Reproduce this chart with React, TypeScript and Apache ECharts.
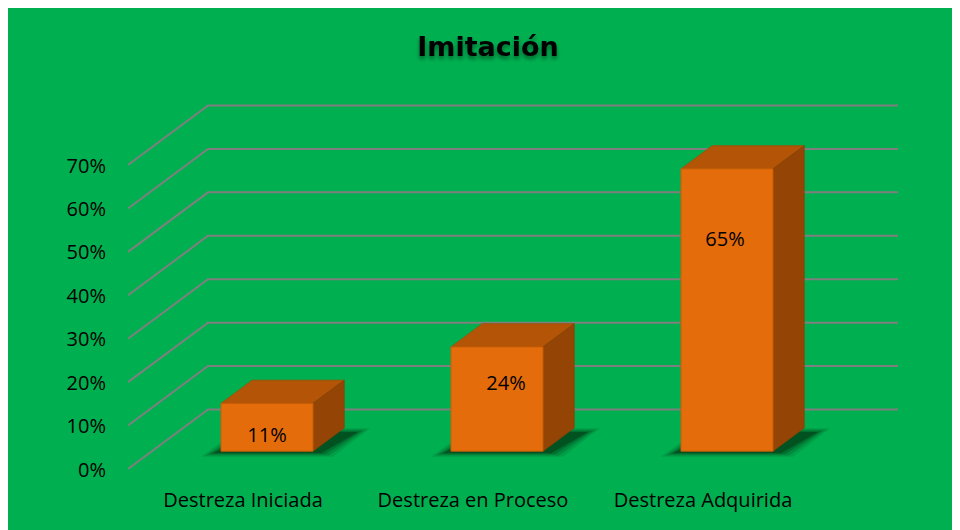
import React, { useEffect, useRef } from "react";
import * as echarts from "echarts";

const categories = ["Destreza Iniciada", "Destreza en Proceso", "Destreza Adquirida"];
const values = [0.11, 0.24, 0.65];
const tickValues = [0, 0.1, 0.2, 0.3, 0.4, 0.5, 0.6, 0.7];
const title = "Imitación";

// perspective / depth geometry (style, not data)
const DEPTH_DX = 80;
const DEPTH_DY = -59.5;
const BAR_FRONT = 0.3;
const BAR_DEPTH = 0.39;
const BAR_WIDTH_RATIO = 0.4;
const LABEL_SHIFT = [
  [0, 31],
  [9, 36],
  [-2, 70],
];
const SHADOW_LAYERS = [
  { grow: 12, alpha: 0.12 },
  { grow: 8, alpha: 0.18 },
  { grow: 4, alpha: 0.25 },
  { grow: 0, alpha: 0.4 },
];
const FONT = "'Open Sans', 'Noto Sans', sans-serif";

export default function App() {
  const ref = useRef<HTMLDivElement>(null);
  useEffect(() => {
    if (!ref.current) return;
    const chart = echarts.init(ref.current, undefined, { renderer: "svg" });
    const option: any = {
      animation: false,
      backgroundColor: "#00B050",
      title: {
        text: title,
        left: "center",
        top: 20,
        textStyle: {
          fontFamily: "'DejaVu Sans', sans-serif",
          fontWeight: "bold",
          fontSize: 27,
          color: "#050505",
          textShadowColor: "rgba(0,0,0,0.45)",
          textShadowBlur: 4,
          textShadowOffsetY: 3,
        },
      },
      grid: { left: 120, right: 150, top: 157, bottom: 69 },
      xAxis: {
        type: "category",
        data: categories,
        axisLine: { show: false },
        axisTick: { show: false },
        splitLine: { show: false },
        axisLabel: { color: "#000", fontSize: 20, fontFamily: FONT, margin: 20, interval: 0 },
      },
      yAxis: {
        type: "value",
        min: 0,
        max: 0.7,
        interval: 0.1,
        axisLine: { show: false },
        axisTick: { show: false },
        splitLine: { show: false },
        axisLabel: {
          color: "#000",
          fontSize: 20,
          fontFamily: FONT,
          margin: 22,
          formatter: (v: number) => Math.round(v * 100) + "%",
        },
      },
      series: [
        {
          type: "custom",
          silent: true,
          data: tickValues.map((v) => [0, v]),
          renderItem: (params: any, api: any) => {
            const cs = params.coordSys;
            const y = api.coord([0, api.value(1)])[1];
            const x0 = cs.x;
            return {
              type: "polyline",
              shape: {
                points: [
                  [x0, y],
                  [x0 + DEPTH_DX, y + DEPTH_DY],
                  [x0 + cs.width + DEPTH_DX, y + DEPTH_DY],
                ],
              },
              style: { stroke: "#7f7f7f", lineWidth: 2, fill: "none" },
            };
          },
        },
        {
          type: "custom",
          silent: true,
          data: values.map((v, i) => [i, v]),
          renderItem: (params: any, api: any) => {
            const i = api.value(0);
            const v = api.value(1);
            const base = api.coord([i, 0]);
            const top = api.coord([i, v]);
            const band = api.size([1, 0])[0];
            const w = band * BAR_WIDTH_RATIO;
            const fx = BAR_FRONT * DEPTH_DX;
            const fy = BAR_FRONT * DEPTH_DY;
            const ddx = BAR_DEPTH * DEPTH_DX;
            const ddy = BAR_DEPTH * DEPTH_DY;
            const cx = base[0] + fx;
            const x1 = cx - w / 2;
            const x2 = cx + w / 2;
            const yb = base[1] + fy;
            const yt = top[1] + fy;
            const sh = LABEL_SHIFT[i] || [0, 30];
            const shadows = SHADOW_LAYERS.map((l) => ({
              type: "polygon",
              shape: {
                points: [
                  [x1 - 8 - l.grow, yb + 2 + l.grow * 0.3],
                  [x2 + 8 + l.grow, yb + 2 + l.grow * 0.3],
                  [x2 + ddx + 14 + l.grow, yb + ddy + 4 - l.grow * 0.3],
                  [x1 + ddx - l.grow, yb + ddy + 4 - l.grow * 0.3],
                ],
              },
              style: { fill: `rgba(0,40,12,${l.alpha})` },
            }));
            return {
              type: "group",
              children: [
                ...shadows,
                {
                  type: "polygon",
                  shape: {
                    points: [
                      [x1, yt],
                      [x2, yt],
                      [x2 + ddx, yt + ddy],
                      [x1 + ddx, yt + ddy],
                    ],
                  },
                  style: { fill: "#B35406", stroke: "#A44C05", lineWidth: 0.8 },
                },
                {
                  type: "polygon",
                  shape: {
                    points: [
                      [x2, yt],
                      [x2 + ddx, yt + ddy],
                      [x2 + ddx, yb + ddy],
                      [x2, yb],
                    ],
                  },
                  style: { fill: "#944505", stroke: "#884004", lineWidth: 0.8 },
                },
                {
                  type: "rect",
                  shape: { x: x1, y: yt, width: w, height: yb - yt },
                  style: { fill: "#E46C0A", stroke: "#C85D08", lineWidth: 1 },
                },
                {
                  type: "text",
                  x: cx + sh[0],
                  y: yt + sh[1],
                  style: {
                    text: Math.round(v * 100) + "%",
                    fill: "#000",
                    fontSize: 20,
                    fontFamily: FONT,
                    align: "center",
                    verticalAlign: "middle",
                  },
                },
              ],
            };
          },
        },
      ],
    };
    chart.setOption(option);
    return () => chart.dispose();
  }, []);
  return <div ref={ref} style={{ width: 960, height: 530 }} />;
}
